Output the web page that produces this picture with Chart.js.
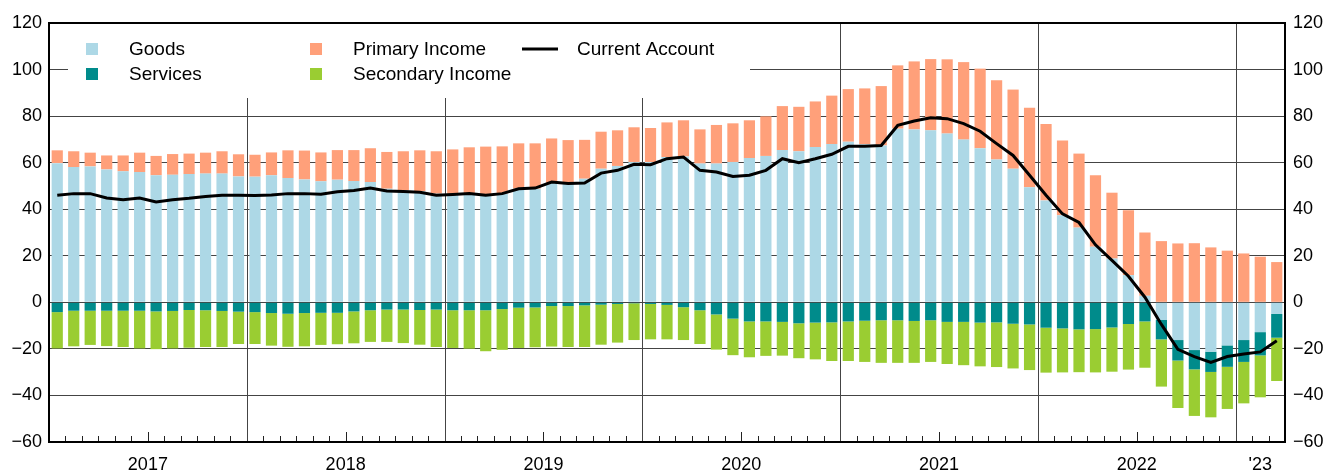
<!DOCTYPE html>
<html>
<head>
<meta charset="utf-8">
<script src="https://cdn.jsdelivr.net/npm/chart.js@4.4.0/dist/chart.umd.min.js"></script>
<style>
  html, body { margin: 0; padding: 0; background: #fff; }
  #wrap { width: 1327px; height: 472px; }
</style>
</head>
<body>
<div id="wrap"><canvas id="caChart" width="1327" height="472"></canvas></div>
<script>
// === DATA (monthly, Jan 2017 - Mar 2023) ===
const yearLabels = ["2017", "2018", "2019", "2020", "2021", "2022", "'23"];
const monthsInYear = [12, 12, 12, 12, 12, 12, 3];

const goods = [
  59.8, 58.1, 58.4, 57.1, 56.3, 56.0, 54.6, 54.8, 55.1, 55.3, 55.3, 54.1,
  54.0, 54.6, 53.4, 52.8, 52.0, 52.7, 52.1, 51.7, 48.8, 48.1, 47.7, 46.7,
  46.3, 46.3, 46.0, 46.7, 48.8, 48.8, 51.3, 51.0, 53.1, 57.4, 58.6, 60.3,
  60.3, 62.4, 62.7, 59.6, 59.6, 60.3, 62.0, 62.9, 65.4, 64.9, 66.7, 68.0,
  69.0, 67.9, 67.4, 74.6, 74.3, 73.9, 72.5, 69.9, 66.2, 61.4, 57.4, 49.4,
  43.8, 37.4, 32.1, 23.9, 18.8, 11.7, 2.8, -7.6, -16.2, -20.5, -21.2, -18.5,
  -16.2, -12.8, -5.0
];
const services = [
  -4.2, -3.6, -3.6, -3.6, -3.6, -3.6, -3.9, -3.7, -3.3, -3.4, -3.7, -4.0,
  -4.2, -4.6, -4.9, -4.6, -4.5, -4.5, -3.9, -3.4, -3.1, -3.1, -3.3, -3.1,
  -3.4, -3.4, -3.4, -2.9, -2.3, -2.2, -1.6, -1.6, -1.3, -1.0, -0.7, -0.4,
  -0.7, -1.1, -2.1, -3.4, -5.2, -7.0, -8.2, -8.2, -8.4, -9.0, -8.7, -8.6,
  -8.2, -7.9, -7.7, -7.7, -8.0, -7.7, -8.4, -8.4, -8.7, -8.6, -9.2, -9.5,
  -10.9, -11.2, -11.6, -11.5, -10.8, -9.3, -8.2, -8.3, -8.8, -8.3, -8.7, -9.2,
  -9.4, -10.0, -10.2
];
const primaryIncome = [
  5.5, 6.8, 5.9, 6.0, 6.8, 8.3, 8.3, 8.9, 8.8, 9.0, 9.6, 9.5,
  9.4, 9.8, 11.9, 12.4, 12.4, 12.7, 13.3, 14.5, 15.8, 16.8, 17.6, 18.2,
  19.4, 20.3, 20.9, 20.3, 19.5, 19.5, 19.1, 18.7, 16.7, 15.9, 15.3, 14.9,
  14.6, 14.9, 15.5, 14.7, 16.6, 16.6, 16.2, 17.0, 18.9, 19.1, 19.6, 20.8,
  22.6, 24.0, 25.5, 27.2, 29.2, 30.6, 31.9, 33.3, 34.2, 34.0, 34.0, 34.2,
  32.8, 32.1, 31.8, 30.7, 28.3, 27.9, 27.2, 26.3, 25.3, 25.4, 23.6, 22.2,
  21.0, 19.6, 17.3
];
const secondaryIncome = [
  -15.6, -15.3, -14.7, -15.2, -15.6, -16.2, -16.2, -16.1, -16.2, -15.8, -15.5, -13.9,
  -13.7, -14.0, -14.2, -14.3, -13.8, -13.5, -13.7, -13.6, -13.9, -14.4, -14.9, -16.1,
  -16.2, -16.5, -17.6, -17.5, -17.3, -17.1, -17.4, -17.6, -17.9, -17.2, -16.6, -15.8,
  -15.2, -14.8, -14.1, -14.5, -15.1, -15.7, -15.4, -14.8, -14.5, -15.0, -15.8, -16.6,
  -17.0, -17.7, -18.3, -18.3, -18.0, -17.9, -18.1, -18.6, -18.8, -19.2, -19.2, -19.6,
  -19.3, -18.9, -18.4, -18.6, -19.0, -19.6, -19.9, -20.3, -20.4, -20.0, -19.5, -18.1,
  -17.8, -18.0, -18.6
];
const currentAccount = [
  46.0, 46.7, 46.7, 44.8, 44.1, 44.8, 43.1, 44.1, 44.7, 45.5, 46.0, 46.0,
  45.9, 46.1, 46.7, 46.7, 46.4, 47.5, 48.0, 49.1, 47.8, 47.6, 47.3, 46.0,
  46.3, 46.7, 46.0, 46.7, 48.8, 49.1, 51.7, 51.0, 51.3, 55.5, 56.7, 59.3,
  59.1, 61.7, 62.4, 56.7, 56.0, 54.1, 54.6, 56.7, 61.7, 60.0, 61.7, 63.6,
  67.0, 67.0, 67.4, 76.0, 77.9, 79.3, 78.9, 76.8, 73.5, 68.2, 63.1, 54.6,
  46.0, 38.0, 34.3, 24.7, 18.0, 11.2, 2.2, -9.5, -20.2, -23.3, -25.8, -23.3,
  -22.2, -21.3, -16.5
];

// === LABELS ===
const monthLabels = [];
yearLabels.forEach((yr, i) => {
  for (let m = 1; m <= monthsInYear[i]; m++) monthLabels.push(yr + "-" + m);
});
const totalMonths = monthLabels.length;

// posisi tengah tiap tahun (dalam satuan bulan)
const yearMid = [];
let acc = 0;
monthsInYear.forEach((n) => { yearMid.push(acc + n / 2); acc += n; });

const FONT = '"Liberation Sans", Arial, sans-serif';
Chart.defaults.font.family = FONT;
Chart.defaults.font.size = 18;
Chart.defaults.color = "#000";

const minusSign = (v) => (v < 0 ? "\u2212" + Math.abs(v) : String(v));

// === PLUGIN: garis tahun, legenda, tick bulan, bingkai ===
const decorations = {
  id: "decorations",
  beforeDatasetsDraw(chart) {
    const { ctx, chartArea: a, scales } = chart;
    const xs = scales.xYear;
    ctx.save();

    // garis pemisah tahun
    ctx.strokeStyle = "#444";
    ctx.lineWidth = 1;
    let m = 0;
    monthsInYear.forEach((n, i) => {
      if (i > 0) {
        const px = Math.round(xs.getPixelForValue(m)) + 0.5;
        ctx.beginPath();
        ctx.moveTo(px, a.top);
        ctx.lineTo(px, a.bottom);
        ctx.stroke();
      }
      m += n;
    });

    // kotak legenda (putih, menutupi grid)
    const lx = a.left + 19, ly = a.top + 1;
    ctx.fillStyle = "#fff";
    ctx.fillRect(lx, ly, 682, 74);

    const items = [
      { label: "Goods", color: "lightblue", col: 0, row: 0 },
      { label: "Services", color: "darkcyan", col: 0, row: 1 },
      { label: "Primary Income", color: "lightsalmon", col: 1, row: 0 },
      { label: "Secondary Income", color: "yellowgreen", col: 1, row: 1 },
    ];
    ctx.font = "19px " + FONT;
    ctx.textBaseline = "middle";
    ctx.textAlign = "left";
    items.forEach((it) => {
      const sx = a.left + 37 + it.col * 224;
      const cy = a.top + 26 + it.row * 25;
      ctx.fillStyle = it.color;
      ctx.fillRect(sx, cy - 6, 12, 12);
      ctx.fillStyle = "#000";
      ctx.fillText(it.label, sx + 43, cy + 1);
    });
    // legenda garis Current Account
    const cy0 = a.top + 26;
    ctx.strokeStyle = "#000";
    ctx.lineWidth = 3;
    ctx.beginPath();
    ctx.moveTo(a.left + 473, cy0);
    ctx.lineTo(a.left + 509, cy0);
    ctx.stroke();
    ctx.fillStyle = "#000";
    ctx.fillText("Current Account", a.left + 528, cy0 + 1);

    ctx.restore();
  },
  afterDatasetsDraw(chart) {
    const { ctx, chartArea: a, scales } = chart;
    const xs = scales.xYear;
    ctx.save();
    ctx.strokeStyle = "#222";
    ctx.lineWidth = 1;

    // tick bulanan di dalam sumbu bawah
    let start = 0;
    monthsInYear.forEach((n) => {
      for (let k = 1; k < n; k++) {
        const px = Math.round(xs.getPixelForValue(start + k)) + 0.5;
        const len = k === 6 ? 10 : 6;
        ctx.beginPath();
        ctx.moveTo(px, a.bottom);
        ctx.lineTo(px, a.bottom - len);
        ctx.stroke();
      }
      start += n;
    });

    // bingkai
    ctx.strokeStyle = "#000";
    ctx.lineWidth = 2;
    ctx.strokeRect(a.left, a.top, a.right - a.left, a.bottom - a.top);
    ctx.restore();
  },
};

const ctx = document.getElementById("caChart").getContext("2d");

new Chart(ctx, {
  data: {
    labels: monthLabels,
    datasets: [
      {
        type: "line",
        label: "Current Account",
        data: currentAccount,
        borderColor: "#000",
        borderWidth: 3,
        pointRadius: 0,
        tension: 0,
        stack: "ca",
        order: 0,
        xAxisID: "x",
        yAxisID: "y",
      },
      { type: "bar", label: "Goods", data: goods, backgroundColor: "lightblue", order: 1 },
      { type: "bar", label: "Services", data: services, backgroundColor: "darkcyan", order: 1 },
      { type: "bar", label: "Primary Income", data: primaryIncome, backgroundColor: "lightsalmon", order: 1 },
      { type: "bar", label: "Secondary Income", data: secondaryIncome, backgroundColor: "yellowgreen", order: 1 },
    ],
  },
  options: {
    responsive: false,
    animation: false,
    layout: { padding: { top: 23, left: 0, right: 0, bottom: 0 } },
    datasets: {
      bar: { barPercentage: 0.68, categoryPercentage: 1, borderWidth: 0, stack: "bop" },
    },
    plugins: {
      legend: { display: false },
      tooltip: { enabled: false },
    },
    scales: {
      x: {
        type: "category",
        stacked: true,
        display: false,
        offset: true,
      },
      xYear: {
        type: "linear",
        position: "bottom",
        min: 0,
        max: totalMonths,
        grid: { display: false, drawTicks: false },
        border: { display: false },
        afterBuildTicks(scale) {
          scale.ticks = yearMid.map((v) => ({ value: v }));
        },
        ticks: {
          autoSkip: false,
          maxRotation: 0,
          padding: 12,
          callback: (v, i) => yearLabels[i],
        },
        afterFit(scale) { scale.height = 30; },
      },
      y: {
        position: "left",
        stacked: true,
        min: -60,
        max: 120,
        grid: { color: "#444", lineWidth: 1, drawTicks: false },
        border: { display: false },
        ticks: { stepSize: 20, padding: 7, callback: minusSign },
        afterFit(scale) { scale.width = 49; },
      },
      y1: {
        position: "right",
        min: -60,
        max: 120,
        grid: { display: false, drawTicks: false },
        border: { display: false },
        ticks: { stepSize: 20, padding: 8, callback: minusSign },
        afterFit(scale) { scale.width = 42; },
      },
    },
  },
  plugins: [decorations],
});
</script>
</body>
</html>
